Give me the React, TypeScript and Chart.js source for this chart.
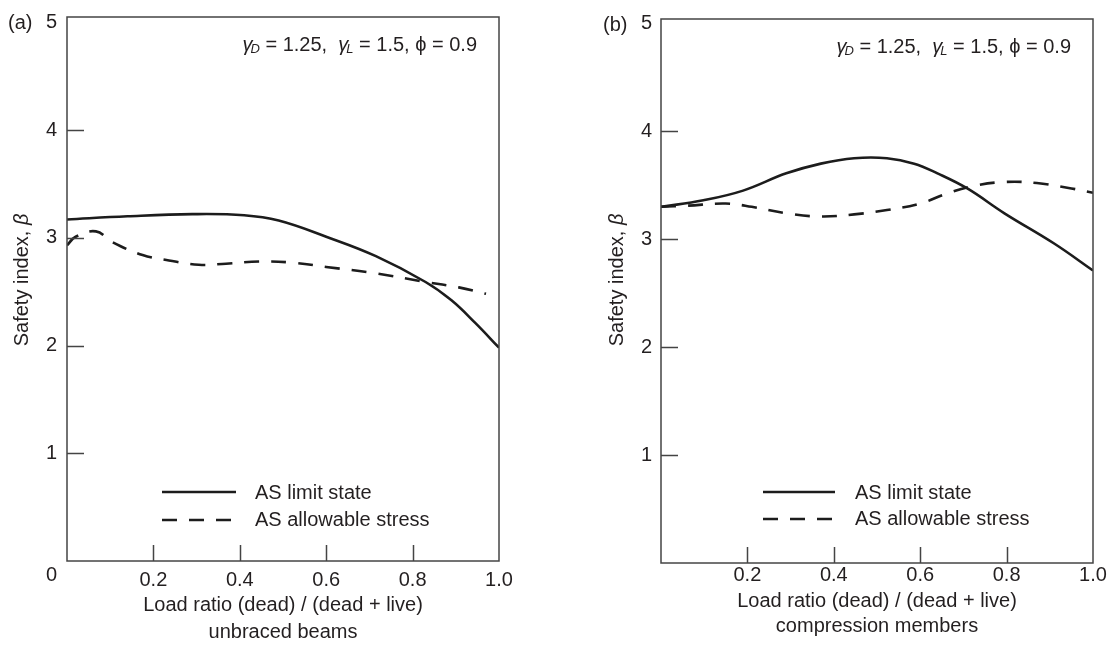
import React, { useEffect, useRef } from "react";
import { Chart, registerables } from "chart.js";

Chart.register(...registerables);

// ---------- data ----------
const X_TICKS = [0.2, 0.4, 0.6, 0.8, 1.0];
const Y_TICKS = [1, 2, 3, 4, 5];

// (a) unbraced beams
const A_LIMIT_X = [0, 0.14, 0.29, 0.41, 0.49, 0.6, 0.715, 0.83, 0.89, 0.945, 1.0];
const A_LIMIT_Y = [3.17, 3.2, 3.22, 3.21, 3.16, 3.01, 2.83, 2.59, 2.42, 2.21, 1.98];
const A_ALLOW_X = [0, 0.02, 0.067, 0.105, 0.175, 0.236, 0.305, 0.368, 0.445, 0.52, 0.6, 0.715, 0.83, 0.907, 0.97];
const A_ALLOW_Y = [2.93, 3.01, 3.06, 2.96, 2.84, 2.79, 2.75, 2.76, 2.78, 2.77, 2.73, 2.67, 2.59, 2.54, 2.48];

// (b) compression members
const B_LIMIT_X = [0, 0.098, 0.19, 0.29, 0.37, 0.447, 0.523, 0.586, 0.64, 0.709, 0.795, 0.91, 1.0];
const B_LIMIT_Y = [3.3, 3.36, 3.45, 3.61, 3.7, 3.75, 3.75, 3.7, 3.61, 3.47, 3.24, 2.96, 2.71];
const B_ALLOW_X = [0, 0.06, 0.15, 0.21, 0.29, 0.37, 0.447, 0.523, 0.6, 0.66, 0.72, 0.795, 0.87, 0.95, 1.0];
const B_ALLOW_Y = [3.3, 3.31, 3.33, 3.3, 3.24, 3.21, 3.23, 3.27, 3.33, 3.42, 3.49, 3.53, 3.52, 3.47, 3.43];

const LEGEND_LABELS = ["AS limit state", "AS allowable stress"];
const X_TITLE = "Load ratio (dead) / (dead + live)";
const SUBTITLES = ["unbraced beams", "compression members"];
const PANEL_TAGS = ["(a)", "(b)"];
const Y_TITLE = "Safety index, ";
const Y_TITLE_SYMBOL = "β";

// ---------- style ----------
const FONT = '"Liberation Sans", Arial, Helvetica, sans-serif';
const INK = "#231f20";
const LINE = "#1c1c1c";
const AXIS = "#444444";
const DASH = [15, 12];

type Panel = {
  width: number;
  pad: { top: number; right: number };
  yWidth: number;
  xHeight: number;
  yMax: number;
  yTickPad: number;
  xTickPad: number;
  titleLH: number;
  titlePB: number;
  subtitle: string;
  tag: string;
  tagPos: [number, number];
  yTitlePos: [number, number];
  legendX: [number, number, number];
  legendY: [number, number];
  showZero: boolean;
  limit: { x: number[]; y: number[] };
  allow: { x: number[]; y: number[] };
};

const toPts = (xs: number[], ys: number[]) => xs.map((x, i) => ({ x, y: ys[i] }));

function overlay(p: Panel) {
  return {
    id: "overlay",
    afterDraw(chart: any) {
      const { ctx, chartArea: ca, scales } = chart;
      const xs = scales.x;
      const ys = scales.y;
      ctx.save();
      // frame
      ctx.strokeStyle = AXIS;
      ctx.lineWidth = 1.5;
      ctx.setLineDash([]);
      ctx.strokeRect(ca.left, ca.top, ca.right - ca.left, ca.bottom - ca.top);
      // inward ticks
      ctx.beginPath();
      xs.ticks.forEach((t: any) => {
        if (t.value > 0 && t.value < 1) {
          const px = Math.round(xs.getPixelForValue(t.value)) + 0.5;
          ctx.moveTo(px, ca.bottom);
          ctx.lineTo(px, ca.bottom - 16);
        }
      });
      ys.ticks.forEach((t: any) => {
        if (t.value > 0 && t.value < 5) {
          const py = Math.round(ys.getPixelForValue(t.value)) + 0.5;
          ctx.moveTo(ca.left, py);
          ctx.lineTo(ca.left + 17, py);
        }
      });
      ctx.stroke();

      ctx.fillStyle = INK;
      ctx.textBaseline = "middle";
      // panel tag
      ctx.font = `20px ${FONT}`;
      ctx.textAlign = "left";
      ctx.fillText(p.tag, p.tagPos[0], p.tagPos[1]);
      // zero label
      if (p.showZero) {
        ctx.textAlign = "right";
        ctx.fillText("0", ca.left - 10, ca.bottom + 14);
      }
      // y title (rotated, italic beta)
      ctx.save();
      ctx.translate(p.yTitlePos[0], p.yTitlePos[1]);
      ctx.rotate(-Math.PI / 2);
      ctx.font = `20px ${FONT}`;
      const w1 = ctx.measureText(Y_TITLE).width;
      ctx.font = `italic 20px ${FONT}`;
      const w2 = ctx.measureText(Y_TITLE_SYMBOL).width;
      const start = -(w1 + w2) / 2;
      ctx.textAlign = "left";
      ctx.font = `20px ${FONT}`;
      ctx.fillText(Y_TITLE, start, 0);
      ctx.font = `italic 20px ${FONT}`;
      ctx.fillText(Y_TITLE_SYMBOL, start + w1, 0);
      ctx.restore();

      // annotation: γD = 1.25, γL = 1.5, ϕ = 0.9
      const pieces: { t: string; f: string; dy: number; dx: number }[] = [
        { t: "γ", f: `italic 20px ${FONT}`, dy: 0, dx: 0 },
        { t: "D", f: `italic 13px ${FONT}`, dy: 2, dx: -2 },
        { t: " = 1.25,  ", f: `20px ${FONT}`, dy: 0, dx: 0 },
        { t: "γ", f: `italic 20px ${FONT}`, dy: 0, dx: 0 },
        { t: "L", f: `italic 13px ${FONT}`, dy: 2, dx: -2 },
        { t: " = 1.5, ϕ = 0.9", f: `20px ${FONT}`, dy: 0, dx: 0 },
      ];
      ctx.textBaseline = "alphabetic";
      ctx.textAlign = "left";
      let total = 0;
      pieces.forEach((pc) => {
        ctx.font = pc.f;
        total += ctx.measureText(pc.t).width + pc.dx;
      });
      let ax = ca.right - 22 - total;
      const ay = ca.top + 34;
      pieces.forEach((pc) => {
        ctx.font = pc.f;
        ax += pc.dx;
        ctx.fillText(pc.t, ax, ay + pc.dy);
        ax += ctx.measureText(pc.t).width;
      });

      // legend
      ctx.strokeStyle = LINE;
      ctx.lineWidth = 2.5;
      [0, 1].forEach((i) => {
        ctx.setLineDash(i === 0 ? [] : DASH);
        ctx.beginPath();
        ctx.moveTo(p.legendX[0], p.legendY[i]);
        ctx.lineTo(p.legendX[1], p.legendY[i]);
        ctx.stroke();
      });
      ctx.setLineDash([]);
      ctx.font = `20px ${FONT}`;
      ctx.textBaseline = "middle";
      ctx.fillText(LEGEND_LABELS[0], p.legendX[2], p.legendY[0] + 1);
      ctx.fillText(LEGEND_LABELS[1], p.legendX[2], p.legendY[1]);
      ctx.restore();
    },
  };
}

function makeConfig(p: Panel): any {
  return {
    type: "line",
    data: {
      datasets: [
        {
          label: LEGEND_LABELS[0],
          data: toPts(p.limit.x, p.limit.y),
          borderColor: LINE,
          borderWidth: 2.6,
          pointRadius: 0,
          fill: false,
          tension: 0.4,
        },
        {
          label: LEGEND_LABELS[1],
          data: toPts(p.allow.x, p.allow.y),
          borderColor: LINE,
          borderWidth: 2.6,
          borderDash: DASH,
          pointRadius: 0,
          fill: false,
          tension: 0.4,
        },
      ],
    },
    options: {
      responsive: false,
      animation: false,
      events: [],
      layout: { padding: { left: 0, top: p.pad.top, right: p.pad.right, bottom: 0 } },
      plugins: { legend: { display: false }, tooltip: { enabled: false }, title: { display: false } },
      scales: {
        x: {
          type: "linear",
          min: 0,
          max: 1,
          grid: { display: false, drawTicks: false },
          border: { display: false },
          afterBuildTicks: (s: any) => {
            s.ticks = X_TICKS.map((value) => ({ value }));
          },
          afterFit: (s: any) => {
            s.height = p.xHeight;
            s.paddingLeft = 0;
            s.paddingRight = 0;
          },
          ticks: {
            padding: p.xTickPad,
            color: INK,
            font: { family: FONT, size: 20 },
            maxRotation: 0,
            autoSkip: false,
            callback: (v: any) => Number(v).toFixed(1),
          },
          title: {
            display: true,
            text: [X_TITLE, p.subtitle],
            color: INK,
            font: { family: FONT, size: 20, lineHeight: p.titleLH },
            padding: { top: 0, bottom: p.titlePB },
          },
        },
        y: {
          type: "linear",
          min: 0,
          max: p.yMax,
          grid: { display: false, drawTicks: false },
          border: { display: false },
          afterBuildTicks: (s: any) => {
            s.ticks = Y_TICKS.map((value) => ({ value }));
          },
          afterFit: (s: any) => {
            s.width = p.yWidth;
            s.paddingTop = 0;
            s.paddingBottom = 0;
          },
          ticks: {
            padding: p.yTickPad,
            color: INK,
            font: { family: FONT, size: 20 },
            autoSkip: false,
            callback: (v: any) => String(v),
          },
          title: { display: false },
        },
      },
    },
    plugins: [overlay(p)],
  };
}

const PANEL_A: Panel = {
  width: 553,
  pad: { top: 17, right: 54 },
  yWidth: 67,
  xHeight: 85,
  yMax: 5.05,
  yTickPad: 10,
  xTickPad: 7,
  titleLH: 1.35,
  titlePB: 0,
  subtitle: SUBTITLES[0],
  tag: PANEL_TAGS[0],
  tagPos: [8, 23],
  yTitlePos: [22, 280],
  legendX: [162, 236, 255],
  legendY: [492, 520],
  showZero: true,
  limit: { x: A_LIMIT_X, y: A_LIMIT_Y },
  allow: { x: A_ALLOW_X, y: A_ALLOW_Y },
};

const PANEL_B: Panel = {
  width: 554,
  pad: { top: 19, right: 14 },
  yWidth: 108,
  xHeight: 83,
  yMax: 5.04,
  yTickPad: 9,
  xTickPad: 0,
  titleLH: 1.25,
  titlePB: 7,
  subtitle: SUBTITLES[1],
  tag: PANEL_TAGS[1],
  tagPos: [50, 25],
  yTitlePos: [64, 280],
  legendX: [210, 282, 302],
  legendY: [492, 519],
  showZero: false,
  limit: { x: B_LIMIT_X, y: B_LIMIT_Y },
  allow: { x: B_ALLOW_X, y: B_ALLOW_Y },
};

function PanelChart({ panel, left }: { panel: Panel; left: number }) {
  const ref = useRef<HTMLCanvasElement | null>(null);
  useEffect(() => {
    if (!ref.current) return;
    const chart = new Chart(ref.current, makeConfig(panel));
    return () => chart.destroy();
  }, [panel]);
  return (
    <canvas
      ref={ref}
      width={panel.width}
      height={646}
      style={{ position: "absolute", left, top: 0, width: panel.width, height: 646, display: "block" }}
    />
  );
}

export default function App() {
  return (
    <div style={{ position: "absolute", left: 0, top: 0, width: 1107, height: 646, background: "#ffffff", overflow: "hidden" }}>
      <PanelChart panel={PANEL_A} left={0} />
      <PanelChart panel={PANEL_B} left={553} />
    </div>
  );
}
